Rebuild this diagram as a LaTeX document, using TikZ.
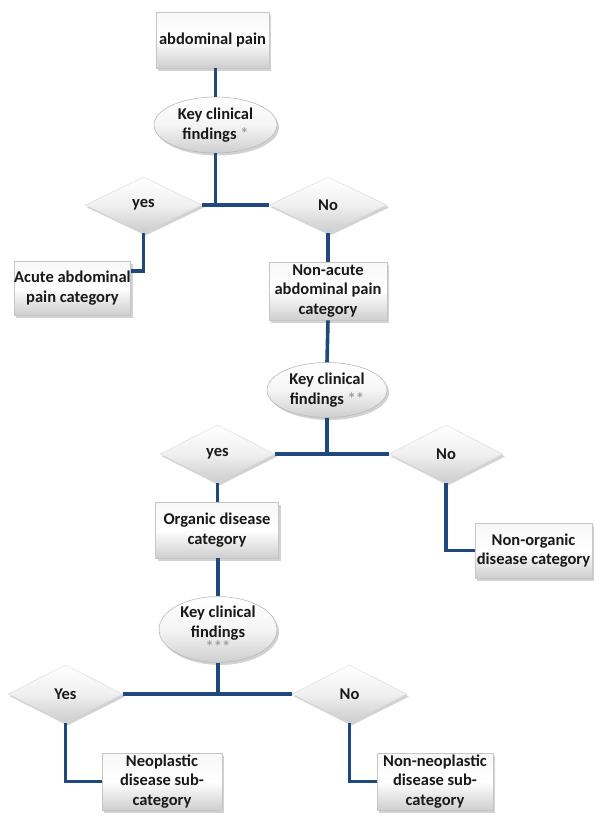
\documentclass[tikz,border=0pt]{standalone}
\usepackage{fontspec}
\setmainfont{Carlito}
\usetikzlibrary{shapes.geometric,shadows}
\definecolor{linkblue}{RGB}{31,73,125}
\definecolor{txt}{RGB}{25,25,25}
\tikzset{
  base/.style={font=\fontsize{16.5}{19.5}\selectfont\bfseries, text=txt, align=center, inner sep=0pt,
    drop shadow={shadow xshift=2pt, shadow yshift=-2.5pt, opacity=0.35}},
  boxnode/.style={base, rectangle, draw=gray!45, line width=0.6pt,
    top color=gray!6, bottom color=gray!38, middle color=white},
  ovalnode/.style={base, ellipse, draw=gray!55, line width=0.6pt,
    top color=white, bottom color=gray!38, middle color=gray!8},
  dianode/.style={base, diamond, draw=gray!30, line width=0.4pt, aspect=2,
    top color=white, bottom color=gray!40, middle color=gray!12},
  link/.style={draw=linkblue, line width=3.6pt},
}
\newcommand{\starmark}[1]{\textcolor{gray!75}{#1}}
\begin{document}
\begin{tikzpicture}[x=1pt,y=-1pt]
\useasboundingbox (0,0) rectangle (600,827);
\fill[white] (0,0) rectangle (600,827);

\node[boxnode, minimum width=113pt, minimum height=56pt] (top) at (212.5,40) {abdominal pain};
\node[ovalnode, minimum width=123pt, minimum height=56pt] (e1) at (215.5,125) {Key clinical\\findings \starmark{*}};
\node[dianode, minimum width=117pt, minimum height=56pt] (d1y) at (143.5,205) {yes};
\node[dianode, minimum width=118pt, minimum height=56pt] (d1n) at (328,205) {No};
\node[boxnode, minimum width=115pt, minimum height=54pt] (acute) at (72.5,288) {Acute abdominal\\pain category};
\node[boxnode, minimum width=118pt, minimum height=58pt] (nonacute) at (328,291) {Non-acute\\abdominal pain\\category};

\node[ovalnode, minimum width=120pt, minimum height=55pt] (e2) at (327,390) {Key clinical\\findings \starmark{**}};
\node[dianode, minimum width=115pt, minimum height=58pt] (d2y) at (217.5,454) {yes};
\node[dianode, minimum width=114pt, minimum height=58pt] (d2n) at (446,454) {No};
\node[boxnode, minimum width=123pt, minimum height=56pt] (organic) at (217,530) {Organic disease\\category};
\node[boxnode, minimum width=117pt, minimum height=55pt] (nonorganic) at (533.5,550.5) {Non-organic\\disease category};

\node[ovalnode, minimum width=118pt, minimum height=56pt] (e3) at (218,629.5) {Key clinical\\findings\\[-4pt]\starmark{***}};
\node[dianode, minimum width=115pt, minimum height=58pt] (d3y) at (65.5,694) {Yes};
\node[dianode, minimum width=115pt, minimum height=58pt] (d3n) at (349.5,694) {No};
\node[boxnode, minimum width=120pt, minimum height=57pt] (neo) at (162,781.5) {Neoplastic\\disease sub-\\category};
\node[boxnode, minimum width=116pt, minimum height=57pt] (nonneo) at (435,781.5) {Non-neoplastic\\disease sub-\\category};

\draw[link] (top.south -| e1.north) -- (e1.north);
\draw[link] (e1.south) -- (e1.south |- d1n.west);
\draw[link] (d1y.east) -- (d1n.west);
\draw[link] (d1y.south) |- ([yshift=17pt]acute.east);
\draw[link] (d1n.south) -- (nonacute.north);
\draw[link] (nonacute.south) -- (e2.north);
\draw[link] (e2.south) -- (e2.south |- d2n.west);
\draw[link] (d2y.east) -- (d2n.west);
\draw[link] (d2y.south) -- (d2y.south |- organic.north);
\draw[link] (d2n.south) |- (nonorganic.west);
\draw[link] (organic.south -| e3.north) -- (e3.north);
\draw[link] (e3.south) -- (e3.south |- d3n.west);
\draw[link] (d3y.east) -- (d3n.west);
\draw[link] (d3y.south) |- (neo.west);
\draw[link] (d3n.south) |- (nonneo.west);
\end{tikzpicture}
\end{document}
